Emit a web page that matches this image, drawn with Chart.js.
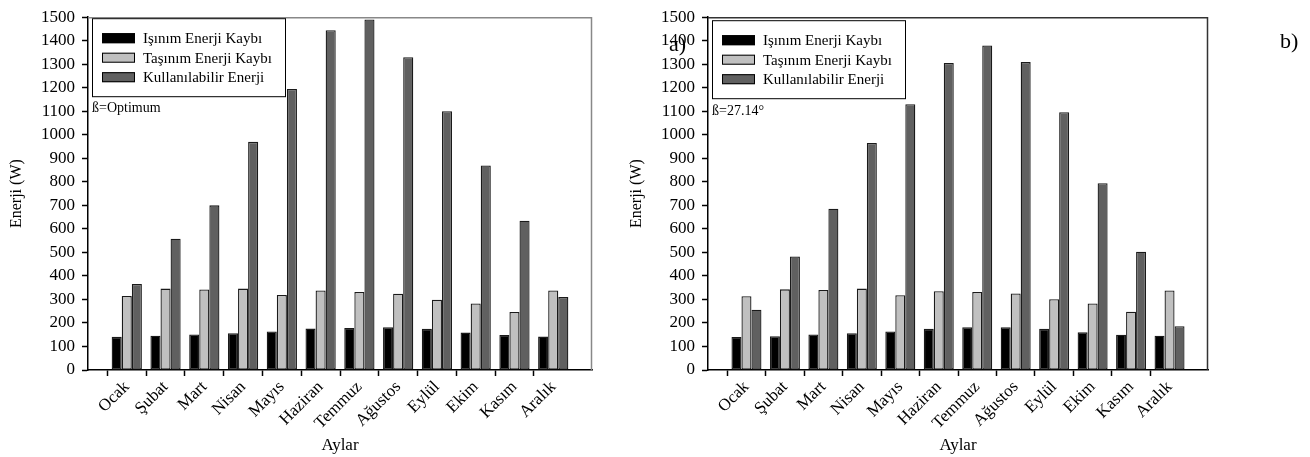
<!DOCTYPE html>
<html>
<head>
<meta charset="utf-8">
<script src="https://cdn.jsdelivr.net/npm/chart.js@4.4.1/dist/chart.umd.min.js"></script>
<style>
  html, body { margin:0; padding:0; background:#fff; width:1310px; height:457px; overflow:hidden; }
  canvas { position:absolute; top:0; }
  .lbl { position:absolute; font-family:'Liberation Serif', serif; font-size:22px; line-height:1; color:#000; }
</style>
</head>
<body>
<canvas id="c1" width="620" height="457" style="left:0"></canvas>
<canvas id="c2" width="690" height="457" style="left:620px"></canvas>
<div class="lbl" style="left:669px; top:33px;">a)</div>
<div class="lbl" style="left:1280px; top:30px;">b)</div>
<script>
const months = ['Ocak','Şubat','Mart','Nisan','Mayıs','Haziran','Temmuz','Ağustos','Eylül','Ekim','Kasım','Aralık'];
const seriesNames = ['Işınım Enerji Kaybı','Taşınım Enerji Kaybı','Kullanılabilir Enerji'];
const leftIsinim = [141,146,151,156,164,176,179,182,175,159,149,142];
const leftTasinim = [315,346,342,346,319,338,332,324,299,283,247,338];
const leftKullanilabilir = [366,558,700,970,1195,1445,1490,1330,1100,870,635,310];
const rightIsinim = [140,144,151,156,164,175,182,182,175,160,150,146];
const rightTasinim = [314,343,340,346,318,335,332,325,301,283,248,338];
const rightKullanilabilir = [256,483,686,965,1130,1305,1380,1309,1096,794,503,186];
const yMin = 0, yMax = 1500, yStep = 100;
const xTitle = 'Aylar', yTitle = 'Enerji (W)';

const FONT = "'Liberation Serif', serif";
const colors = ['#000000', '#c0c0c0', '#606060'];
const labels = [''].concat(months, ['']);
const pad = arr => [null].concat(arr, [null]);

const deco = {
  id: 'deco',
  afterDraw(chart, args, opts) {
    const ctx = chart.ctx, a = chart.chartArea;
    ctx.save();
    ctx.strokeStyle = opts.frameColor; ctx.lineWidth = 1.5;
    ctx.beginPath();
    ctx.moveTo(a.left, a.top + 0.5); ctx.lineTo(a.right - 0.5, a.top + 0.5); ctx.lineTo(a.right - 0.5, a.bottom);
    ctx.stroke();
    const bx = a.left + 4, by = a.top + opts.legendDy, bw = 193, bh = 78;
    ctx.fillStyle = '#fff'; ctx.fillRect(bx, by, bw, bh);
    ctx.strokeStyle = '#000'; ctx.lineWidth = 1;
    ctx.strokeRect(bx + 0.5, by + 0.5, bw, bh);
    ctx.font = '15px ' + FONT; ctx.textBaseline = 'middle'; ctx.textAlign = 'left';
    chart.data.datasets.forEach((ds, i) => {
      const cy = by + 20 + i * 19.5;
      ctx.fillStyle = ds.backgroundColor;
      ctx.fillRect(bx + 10, cy - 5, 33, 10);
      ctx.strokeStyle = '#000'; ctx.strokeRect(bx + 10.5, cy - 4.5, 32, 9);
      ctx.fillStyle = '#000';
      ctx.fillText(ds.label, bx + 51, cy + 1);
    });
    ctx.font = '14px ' + FONT; ctx.textBaseline = 'alphabetic';
    ctx.fillText(opts.note, a.left + 4, a.top + opts.noteDy);
    ctx.restore();
  }
};

function makeChart(id, data3, padRight, padTop, note, frameColor, legendDy, noteDy) {
  return new Chart(document.getElementById(id), {
    type: 'bar',
    data: {
      labels: labels,
      datasets: data3.map((d, i) => ({
        label: seriesNames[i], data: pad(d), backgroundColor: colors[i],
        borderColor: '#1a1a1a', borderWidth: 1.3, borderSkipped: false,
        barPercentage: 1.0, categoryPercentage: 0.78
      }))
    },
    options: {
      responsive: false, animation: false, devicePixelRatio: 1,
      layout: { padding: { left: 0, right: padRight, top: padTop, bottom: 0 } },
      plugins: { legend: { display: false }, tooltip: { enabled: false },
        deco: { note: note, frameColor: frameColor, legendDy: legendDy, noteDy: noteDy } },
      scales: {
        x: {
          offset: false,
          afterFit: s => { s.height = 87; },
          grid: { display: true, drawOnChartArea: false, drawTicks: true, tickLength: 6,
                  tickColor: c => (c.index === 0 || c.index === labels.length - 1) ? 'rgba(0,0,0,0)' : '#000', tickWidth: 1.5 },
          border: { display: true, color: '#000', width: 1.5 },
          ticks: { autoSkip: false, maxRotation: 45, minRotation: 45, padding: 1, color: '#000',
                   font: { family: FONT, size: 17 } },
          title: { display: true, text: xTitle, color: '#000', font: { family: FONT, size: 17 }, padding: { top: 0, bottom: 1 } }
        },
        y: {
          min: yMin, max: yMax,
          afterFit: s => { s.width = 88; },
          grid: { display: true, drawOnChartArea: false, drawTicks: true, tickLength: 6, tickColor: '#000', tickWidth: 1.5 },
          border: { display: true, color: '#000', width: 1.5 },
          ticks: { stepSize: yStep, padding: 7, color: '#000', font: { family: FONT, size: 17 },
                   callback: v => String(v) },
          title: { display: true, text: yTitle, color: '#000', font: { family: FONT, size: 16 }, padding: { top: 7, bottom: 0 } }
        }
      }
    },
    plugins: [deco]
  });
}

makeChart('c1', [leftIsinim, leftTasinim, leftKullanilabilir], 28, 12, 'ß=Optimum', '#888888', 1, 95);
makeChart('c2', [rightIsinim, rightTasinim, rightKullanilabilir], 102, 13, 'ß=27.14°', '#333333', 3, 98);
</script>
</body>
</html>
